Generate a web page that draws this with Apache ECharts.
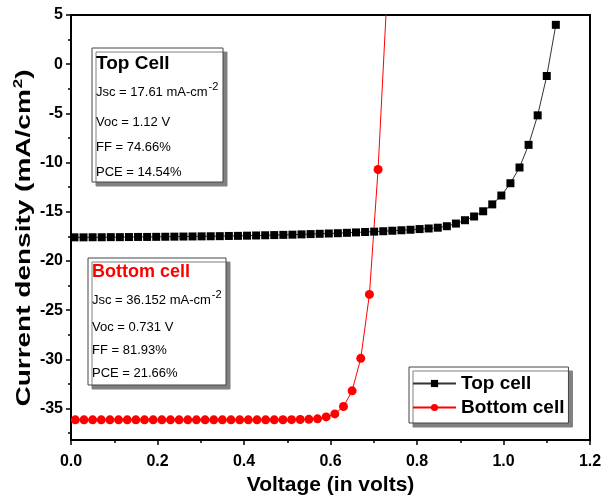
<!DOCTYPE html>
<html>
<head>
<meta charset="utf-8">
<script src="https://cdn.jsdelivr.net/npm/echarts@6/dist/echarts.min.js"></script>
<style>
  html, body { margin: 0; padding: 0; background: #fff; }
  #chart { width: 601px; height: 496px; }
</style>
</head>
<body>
<div id="chart"></div>
<script>
// J-V curve of the top cell (V in volts, J in mA/cm2)
const topVolts = [0.008, 0.029, 0.050, 0.071, 0.092, 0.113, 0.134, 0.155, 0.176, 0.197,
  0.218, 0.239, 0.260, 0.281, 0.302, 0.323, 0.344, 0.365, 0.386, 0.407,
  0.428, 0.449, 0.470, 0.491, 0.512, 0.533, 0.554, 0.575, 0.596, 0.617,
  0.638, 0.659, 0.680, 0.701, 0.722, 0.743, 0.764, 0.785, 0.806, 0.827,
  0.848, 0.869, 0.890, 0.911, 0.932, 0.953, 0.974, 0.995, 1.016, 1.037,
  1.058, 1.079, 1.100, 1.121];
const topCurrent = [-17.60, -17.60, -17.59, -17.59, -17.58, -17.58, -17.57, -17.56, -17.56, -17.55,
  -17.54, -17.53, -17.52, -17.51, -17.50, -17.49, -17.48, -17.46, -17.45, -17.43,
  -17.41, -17.39, -17.37, -17.35, -17.33, -17.30, -17.27, -17.24, -17.21, -17.18,
  -17.14, -17.10, -17.06, -17.02, -16.98, -16.93, -16.88, -16.83, -16.76, -16.70,
  -16.62, -16.47, -16.20, -15.86, -15.48, -14.95, -14.25, -13.35, -12.10, -10.50,
  -8.20, -5.20, -1.20, 4.00];

// J-V curve of the bottom cell
const bottomVolts = [0.01, 0.03, 0.05, 0.07, 0.09, 0.11, 0.13, 0.15, 0.17, 0.19,
  0.21, 0.23, 0.25, 0.27, 0.29, 0.31, 0.33, 0.35, 0.37, 0.39,
  0.41, 0.43, 0.45, 0.47, 0.49, 0.51, 0.53, 0.55, 0.57, 0.59,
  0.61, 0.63, 0.65, 0.67, 0.69, 0.71, 0.73];
const bottomCurrent = [-36.15, -36.15, -36.15, -36.15, -36.15, -36.15, -36.15, -36.15, -36.15, -36.15,
  -36.15, -36.15, -36.15, -36.15, -36.15, -36.15, -36.15, -36.15, -36.15, -36.15,
  -36.15, -36.15, -36.15, -36.15, -36.14, -36.13, -36.12, -36.10, -36.05, -35.85,
  -35.55, -34.80, -33.20, -29.90, -23.40, -10.70, 6.50];

const seriesNames = ['Top cell', 'Bottom cell'];

// Axis ticks
const yTicks = [5, 0, -5, -10, -15, -20, -25, -30, -35];
const yMinorTicks = [2.5, -2.5, -7.5, -12.5, -17.5, -22.5, -27.5, -32.5, -37.5];

// Axis titles
const xTitle = 'Voltage (in volts)';
const yTitle = ['Current density (mA/cm', '2', ')'];

// Photovoltaic parameters shown in the two boxes: [text, superscript]
const topCellTitle = 'Top Cell';
const topCellParams = [['Jsc = 17.61 mA-cm', '-2'], ['Voc = 1.12 V', ''], ['FF = 74.66%', ''], ['PCE = 14.54%', '']];
const bottomCellTitle = 'Bottom cell';
const bottomCellParams = [['Jsc = 36.152 mA-cm', '-2'], ['Voc = 0.731 V', ''], ['FF = 81.93%', ''], ['PCE = 21.66%', '']];

const FONT = '"Liberation Sans", Arial, sans-serif';

function pairs(xs, ys) { return xs.map((x, i) => [x, ys[i]]); }

const supRich = {
  base: { fontSize: 13, fontFamily: FONT, color: '#000' },
  sup: { fontSize: 11, fontFamily: FONT, color: '#000', padding: [0, 0, 11, 1] }
};

function paramBox(x, y, w, h, title, titleColor, titleSize, titleY, params, paramYs, textX) {
  const children = [
    { type: 'rect', shape: { x: x, y: y, width: w, height: h },
      style: { fill: '#fff', stroke: '#444', lineWidth: 1,
               shadowColor: '#808080', shadowOffsetX: 4, shadowOffsetY: 4, shadowBlur: 0 } },
    { type: 'text', x: textX, y: titleY,
      style: { text: title, fill: titleColor, font: 'bold ' + titleSize + 'px ' + FONT, verticalAlign: 'middle' } }
  ];
  params.forEach((p, i) => {
    const txt = '{base|' + p[0] + '}' + (p[1] ? '{sup|' + p[1] + '}' : '');
    children.push({ type: 'text', x: textX, y: paramYs[i],
      style: { text: txt, rich: supRich, verticalAlign: 'middle' } });
  });
  return { type: 'group', children: children, z: 100 };
}

const chart = echarts.init(document.getElementById('chart'), null, { renderer: 'canvas' });

chart.setOption({
  backgroundColor: '#fff',
  animation: false,
  grid: { left: 71, right: 11, top: 15, bottom: 56, show: true, outerBoundsMode: 'none',
          borderColor: '#000', borderWidth: 2, backgroundColor: 'transparent' },
  xAxis: {
    type: 'value', min: 0, max: 1.2, interval: 0.2,
    name: xTitle, nameLocation: 'middle', nameGap: 35,
    nameTextStyle: { fontSize: 21, fontWeight: 'bold', fontFamily: FONT, color: '#000' },
    axisLine: { show: true, onZero: false, lineStyle: { color: '#000', width: 2 } },
    axisTick: { show: true, inside: false, length: 5, lineStyle: { color: '#000', width: 1.5 } },
    minorTick: { show: true, splitNumber: 2, length: 3, lineStyle: { color: '#000', width: 1.5 } },
    axisLabel: { fontSize: 16, fontWeight: 'bold', fontFamily: FONT, color: '#000', margin: 14,
                 formatter: v => v.toFixed(1) },
    splitLine: { show: false }
  },
  yAxis: [{
    type: 'value', min: -38.2, max: 5,
    axisLine: { show: true, onZero: false, lineStyle: { color: '#000', width: 2 } },
    axisTick: { show: true, inside: false, length: 5, customValues: yTicks, lineStyle: { color: '#000', width: 1.5 } },
    axisLabel: { fontSize: 16, fontWeight: 'bold', fontFamily: FONT, color: '#000', margin: 8,
                 customValues: yTicks },
    splitLine: { show: false }
  }, {
    type: 'value', min: -38.2, max: 5, position: 'left',
    axisLine: { show: false, onZero: false },
    axisTick: { show: true, inside: false, length: 3, customValues: yMinorTicks, lineStyle: { color: '#000', width: 1.5 } },
    axisLabel: { show: false, customValues: yMinorTicks },
    splitLine: { show: false }
  }],
  legend: {
    data: seriesNames,
    orient: 'vertical', left: 409, top: 367,
    itemWidth: 43, itemHeight: 9, itemGap: 5,
    padding: [7, 4, 6, 3],
    backgroundColor: '#fff', borderColor: '#444', borderWidth: 1,
    shadowColor: '#808080', shadowOffsetX: 4, shadowOffsetY: 4, shadowBlur: 0,
    textStyle: { fontSize: 19, fontWeight: 'bold', fontFamily: FONT, color: '#000' }
  },
  graphic: [
    // y-axis title, drawn rotated along the left axis
    { type: 'text', x: 24, y: 238, rotation: Math.PI / 2, scaleX: 1, scaleY: 0.74, z: 50,
      style: {
        text: '{t|' + yTitle[0] + '}{s|' + yTitle[1] + '}{t|' + yTitle[2] + '}',
        align: 'center', verticalAlign: 'middle',
        rich: {
          t: { fontSize: 28, fontWeight: 'bold', fontFamily: FONT, color: '#000' },
          s: { fontSize: 17, fontWeight: 'bold', fontFamily: FONT, color: '#000', padding: [0, 0, 16, 1] }
        }
      } },
    paramBox(92, 48, 131, 134, topCellTitle, '#000', 19, 64, topCellParams, [92, 122, 147, 172], 96),
    paramBox(88, 258, 138, 127, bottomCellTitle, '#ff0000', 18, 272, bottomCellParams, [300, 327, 350, 373], 92)
  ],
  series: [{
    name: seriesNames[0], type: 'line', data: pairs(topVolts, topCurrent),
    symbol: 'rect', symbolSize: 8, clip: true,
    itemStyle: { color: '#000' }, lineStyle: { color: '#333', width: 1 }, z: 3
  }, {
    name: seriesNames[1], type: 'line', data: pairs(bottomVolts, bottomCurrent),
    symbol: 'circle', symbolSize: 9, clip: true,
    itemStyle: { color: '#ff0000' }, lineStyle: { color: '#ff0000', width: 1 }, z: 2
  }]
});
</script>
</body>
</html>
